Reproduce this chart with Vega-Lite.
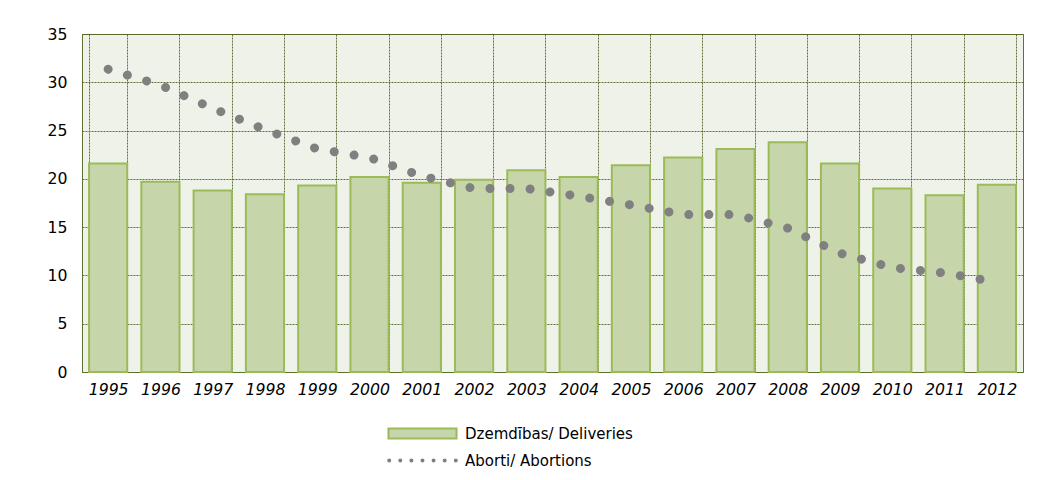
{
  "$schema": "https://vega.github.io/schema/vega-lite/v6.json",
  "autosize": "none",
  "width": 941,
  "height": 338,
  "padding": {"left": 82, "top": 34, "right": 32, "bottom": 108},
  "background": "white",
  "config": {
    "font": "DejaVu Sans",
    "view": {"fill": "#eff2e8", "stroke": "#5f7236", "strokeWidth": 1},
    "axis": {"labelFont": "DejaVu Sans", "labelColor": "#000000", "labelFontSize": 15.7}
  },
  "data": {
    "values": [
      {"year": "1995", "deliveries": 21.6, "abortions": 31.35},
      {"year": "1996", "deliveries": 19.7, "abortions": 29.7},
      {"year": "1997", "deliveries": 18.8, "abortions": 27.3},
      {"year": "1998", "deliveries": 18.4, "abortions": 25.1},
      {"year": "1999", "deliveries": 19.3, "abortions": 23.1},
      {"year": "2000", "deliveries": 20.2, "abortions": 22.2},
      {"year": "2001", "deliveries": 19.6, "abortions": 20.3},
      {"year": "2002", "deliveries": 19.9, "abortions": 19.0},
      {"year": "2003", "deliveries": 20.9, "abortions": 19.0},
      {"year": "2004", "deliveries": 20.2, "abortions": 18.2},
      {"year": "2005", "deliveries": 21.4, "abortions": 17.3},
      {"year": "2006", "deliveries": 22.2, "abortions": 16.3},
      {"year": "2007", "deliveries": 23.1, "abortions": 16.3},
      {"year": "2008", "deliveries": 23.8, "abortions": 14.9},
      {"year": "2009", "deliveries": 21.6, "abortions": 12.3},
      {"year": "2010", "deliveries": 19.0, "abortions": 10.8},
      {"year": "2011", "deliveries": 18.3, "abortions": 10.25},
      {"year": "2012", "deliveries": 19.4, "abortions": 9.3}
    ]
  },
  "layer": [
    {
      "transform": [{"calculate": "'Dzemdības/ Deliveries'", "as": "s1"}],
      "mark": {"type": "bar", "stroke": "#9bbb59", "strokeWidth": 2},
      "encoding": {
        "x": {
          "field": "year", "type": "ordinal",
          "scale": {"paddingInner": 0.27, "paddingOuter": 0.135},
          "axis": {
            "title": null, "labelAngle": 0, "labelFontStyle": "italic",
            "ticks": false, "tickBand": "extent", "grid": true,
            "gridColor": "#4f6228", "gridDash": [2, 1], "gridOpacity": 0.9,
            "domainColor": "#5f7236", "labelPadding": 10
          }
        },
        "y": {
          "field": "deliveries", "type": "quantitative",
          "scale": {"domain": [0, 35]},
          "axis": {
            "title": null, "values": [0, 5, 10, 15, 20, 25, 30, 35],
            "ticks": false, "grid": true, "gridColor": "#4f6228",
            "gridDash": [2, 1], "gridOpacity": 0.9,
            "domainColor": "#5f7236", "labelPadding": 15
          }
        },
        "fill": {
          "field": "s1", "type": "nominal",
          "scale": {"range": ["#c6d6aa"]},
          "legend": {
            "title": null, "orient": "none", "legendX": 333, "legendY": 392,
            "symbolType": "M-5.67,-0.83H5.67V0.83H-5.67Z",
            "symbolSize": 144, "symbolStrokeColor": "#9bbb59",
            "symbolStrokeWidth": 2, "labelFontSize": 15, "labelFont": "DejaVu Sans",
            "labelColor": "#000000", "labelOffset": 35, "labelLimit": 400, "padding": 0
          }
        }
      }
    },
    {
      "transform": [{"calculate": "'Aborti/ Abortions'", "as": "s2"}],
      "mark": {"type": "line", "strokeWidth": 9, "strokeCap": "round", "strokeDash": [0.001, 20.1]},
      "encoding": {
        "x": {"field": "year", "type": "ordinal"},
        "y": {"field": "abortions", "type": "quantitative"},
        "stroke": {
          "field": "s2", "type": "nominal",
          "scale": {"range": ["#808080"]},
          "legend": {
            "title": null, "orient": "none", "legendX": 333, "legendY": 419,
            "symbolType": "M-5.55,0m-0.33,0a0.33,0.33 0 1,0 0.66,0a0.33,0.33 0 1,0 -0.66,0M-3.7,0m-0.33,0a0.33,0.33 0 1,0 0.66,0a0.33,0.33 0 1,0 -0.66,0M-1.85,0m-0.33,0a0.33,0.33 0 1,0 0.66,0a0.33,0.33 0 1,0 -0.66,0M0,0m-0.33,0a0.33,0.33 0 1,0 0.66,0a0.33,0.33 0 1,0 -0.66,0M1.85,0m-0.33,0a0.33,0.33 0 1,0 0.66,0a0.33,0.33 0 1,0 -0.66,0M3.7,0m-0.33,0a0.33,0.33 0 1,0 0.66,0a0.33,0.33 0 1,0 -0.66,0M5.55,0m-0.33,0a0.33,0.33 0 1,0 0.66,0a0.33,0.33 0 1,0 -0.66,0",
            "symbolSize": 144,
            "labelFontSize": 15, "labelFont": "DejaVu Sans",
            "labelColor": "#000000", "labelOffset": 35, "labelLimit": 400, "padding": 0,
            "encode": {
              "symbols": {
                "update": {
                  "fill": {"value": "#808080"},
                  "stroke": {"value": "transparent"},
                  "strokeDash": {"value": [1, 0]},
                  "strokeWidth": {"value": 0},
                  "opacity": {"value": 1}
                }
              }
            }
          }
        }
      }
    }
  ]
}
